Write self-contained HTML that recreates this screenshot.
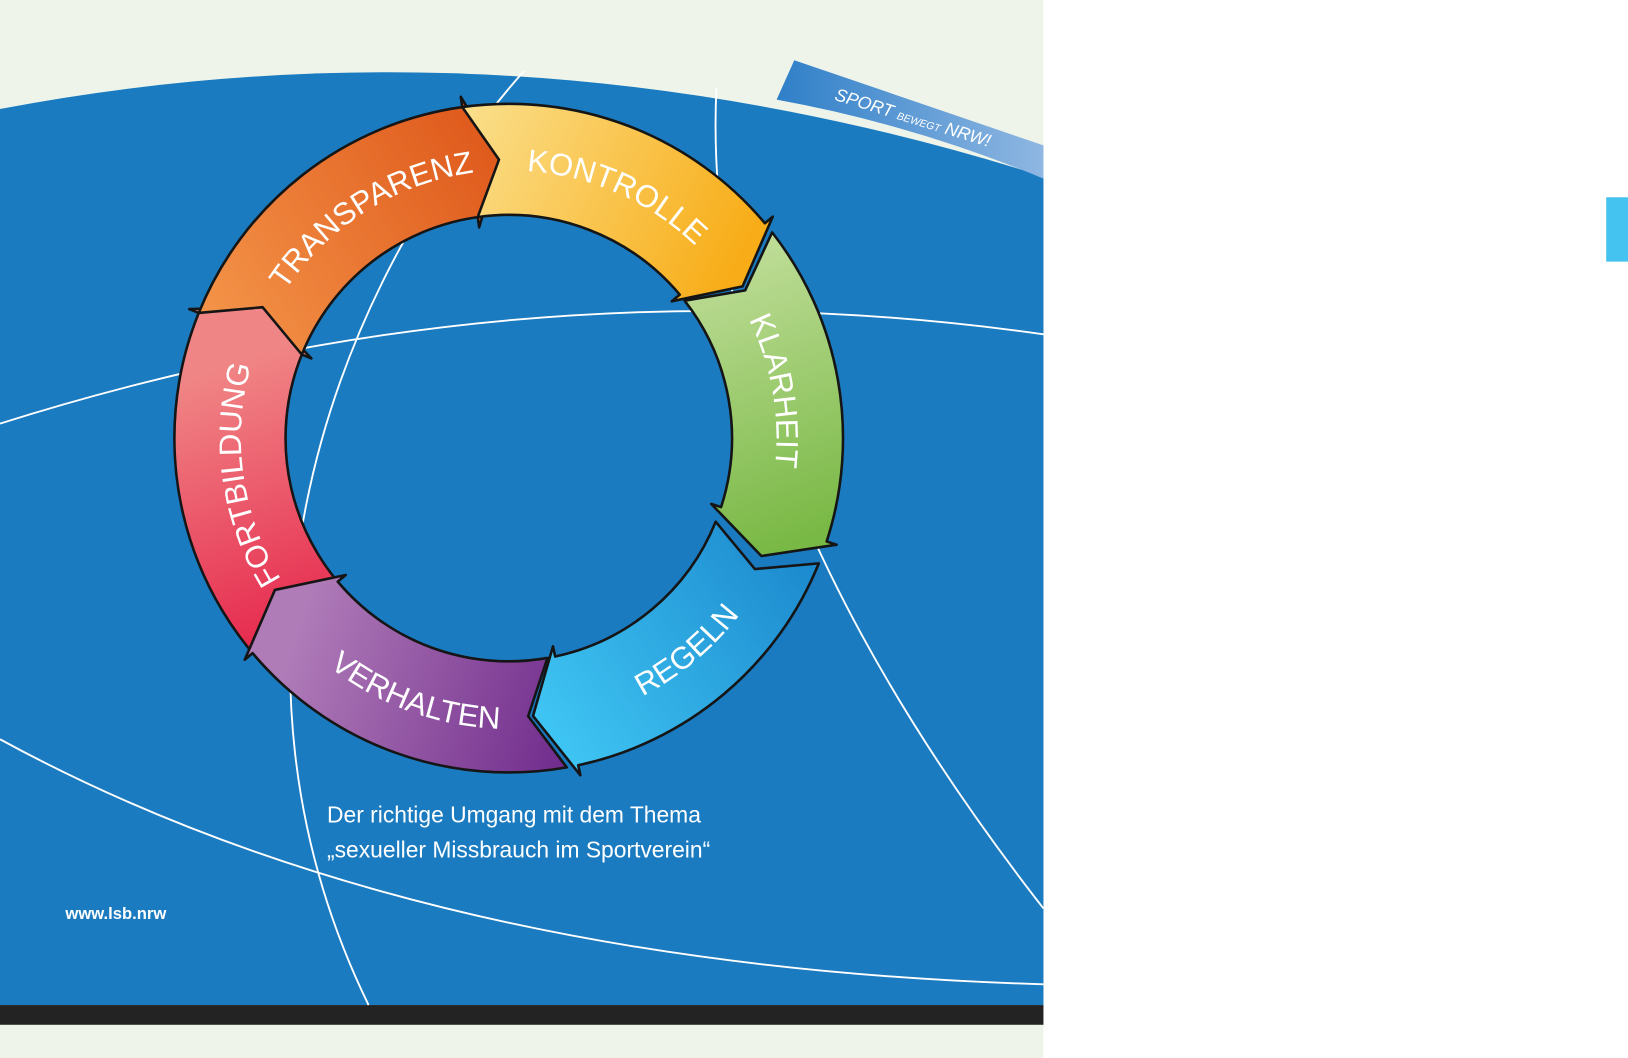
<!DOCTYPE html>
<html><head><meta charset="utf-8"><style>
html,body{margin:0;padding:0;background:#fff;}
svg{display:block;}
</style></head><body>
<svg width="1628" height="1058" viewBox="0 0 1568 1019" preserveAspectRatio="none" xmlns="http://www.w3.org/2000/svg">
<defs>
<linearGradient id="gO" gradientUnits="userSpaceOnUse" x1="190" y1="310" x2="470" y2="130"><stop offset="0" stop-color="#f4954a"/><stop offset="1" stop-color="#df5a1c"/></linearGradient>
<linearGradient id="gY" gradientUnits="userSpaceOnUse" x1="420" y1="110" x2="710" y2="250"><stop offset="0" stop-color="#fbe394"/><stop offset="1" stop-color="#f8ad18"/></linearGradient>
<linearGradient id="gG" gradientUnits="userSpaceOnUse" x1="680" y1="250" x2="780" y2="520"><stop offset="0" stop-color="#bfdd98"/><stop offset="1" stop-color="#78b844"/></linearGradient>
<linearGradient id="gB" gradientUnits="userSpaceOnUse" x1="790" y1="520" x2="530" y2="700"><stop offset="0" stop-color="#1a86cc"/><stop offset="1" stop-color="#3ec4f2"/></linearGradient>
<linearGradient id="gP" gradientUnits="userSpaceOnUse" x1="580" y1="720" x2="280" y2="620"><stop offset="0" stop-color="#6a2488"/><stop offset="1" stop-color="#b07cb8"/></linearGradient>
<linearGradient id="gR" gradientUnits="userSpaceOnUse" x1="300" y1="640" x2="200" y2="360"><stop offset="0" stop-color="#e51f48"/><stop offset="1" stop-color="#f08585"/></linearGradient>
<linearGradient id="gBan" x1="0" y1="0" x2="1" y2="0"><stop offset="0" stop-color="#2f7fc8"/><stop offset="1" stop-color="#8fb7e2"/></linearGradient>
</defs>
<rect x="0" y="0" width="1005" height="1019" fill="#eef4ea"/>
<rect x="1547" y="190" width="21" height="62" fill="#44c3f0"/>
<path d="M0,105 Q500,10 1005,170 L1005,968 L0,968 Z" fill="#1b7bc1"/>
<path d="M765,58 L1005,140 L1005,172 Q880,120 748,96 Z" fill="url(#gBan)"/>
<text x="0" y="0" transform="translate(803,96) rotate(17)" fill="#fff" font-family="Liberation Sans, sans-serif" font-style="italic" font-size="17">SPORT <tspan font-size="10">BEWEGT</tspan> NRW!</text>
<rect x="0" y="968" width="1005" height="19" fill="#232323"/>
<g fill="none" stroke="#fff" stroke-width="1.8">
<path d="M0,408 Q500,250 1005,322"/>
<path d="M0,712 Q400,930 1005,948"/>
<path d="M505,68 C300,300 200,650 355,968"/>
<path d="M690,85 C680,300 760,560 1005,875"/>
</g>
<g id="ring" stroke="#151515" stroke-width="2.5" stroke-linejoin="round">
<path id="s6" fill="url(#gR)"/>
<path id="s1" fill="url(#gO)"/>
<path id="s2" fill="url(#gY)"/>
<path id="s3" fill="url(#gG)"/>
<path id="s4" fill="url(#gB)"/>
<path id="s5" fill="url(#gP)"/>
</g>
<g fill="none">
<path id="t1"/><path id="t2"/><path id="t3"/><path id="t4"/><path id="t5"/><path id="t6"/>
</g>
<g fill="#fff" font-family="Liberation Sans, sans-serif" font-size="30">
<text><textPath href="#t1" startOffset="50%" text-anchor="middle">TRANSPARENZ</textPath></text>
<text><textPath href="#t2" startOffset="50%" text-anchor="middle">KONTROLLE</textPath></text>
<text><textPath href="#t3" startOffset="50%" text-anchor="middle">KLARHEIT</textPath></text>
<text><textPath href="#t4" startOffset="50%" text-anchor="middle">REGELN</textPath></text>
<text><textPath href="#t5" startOffset="50%" text-anchor="middle">VERHALTEN</textPath></text>
<text><textPath href="#t6" startOffset="50%" text-anchor="middle">FORTBILDUNG</textPath></text>
</g>
<g fill="#fff" font-family="Liberation Sans, sans-serif">
<text x="315" y="792" font-size="22">Der richtige Umgang mit dem Thema</text>
<text x="315" y="826" font-size="22">„sexueller Missbrauch im Sportverein“</text>
<text x="63" y="885" font-size="16" font-weight="bold">www.lsb.nrw</text>
</g>
</svg>
<script>
(function(){
var cx=490,cy=422,R=322,r=215,M=(R+r)/2;
function P(a,rad){var t=a*Math.PI/180;return (cx+rad*Math.sin(t)).toFixed(1)+","+(cy-rad*Math.cos(t)).toFixed(1);}
var segs=[[292,352,358],[352,50,57],[52,108,115],[112,168,175],[170,230,237],[222,292,298]];
var ids=[1,2,3,4,5,6];
segs.forEach(function(s,i){
 var a1=s[0],a2=s[1],a3=s[2]; if(a2<a1)a2+=360; if(a3<a1)a3+=360;
 var d="M"+P(a1,R)+" A"+R+","+R+" 0 0 1 "+P(a2,R)+" L"+P(a2,R+10)+" L"+P(a3,M)+" L"+P(a2,r-10)+" L"+P(a2,r)+" A"+r+","+r+" 0 0 0 "+P(a1,r)+" L"+P(a1+6,M)+" Z";
 document.getElementById("s"+ids[i]).setAttribute("d",d);
});
var labs=[[-32,1],[24,1],[80,1],[140,0],[200,0],[262,1]];
labs.forEach(function(l,i){
 var c=l[0],sp=120,d;
 if(l[1]){var rr=258;d="M"+P(c-sp/2,rr)+" A"+rr+","+rr+" 0 0 1 "+P(c+sp/2,rr);}
 else{var rr=280;d="M"+P(c+sp/2,rr)+" A"+rr+","+rr+" 0 0 0 "+P(c-sp/2,rr);}
 document.getElementById("t"+(i+1)).setAttribute("d",d);
});
})();
</script>
</body></html>
